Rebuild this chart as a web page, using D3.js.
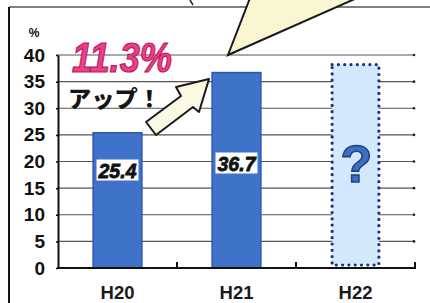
<!DOCTYPE html>
<html><head><meta charset="utf-8">
<script src="https://cdn.jsdelivr.net/npm/d3@7/dist/d3.min.js"></script>
<style>
html,body{margin:0;padding:0;background:#fff;}
svg{display:block;}
</style></head>
<body>
<svg id="chart" width="430" height="303"></svg>
<script>
const categories = ["H20", "H21", "H22"];
const values = [25.4, 36.7, 38.2];          // H22 is the unknown ("?") placeholder bar
const valueLabels = ["25.4", "36.7", null];
const unknownFlags = [false, false, true];
const yTicks = [0, 5, 10, 15, 20, 25, 30, 35, 40];
const yUnit = "%";
const headline = "11.3%";
const subline = "アップ！";

const svg = d3.select("#chart");
const W = 430, H = 303;
const x = d3.scaleBand().domain(categories).range([58, 415]).paddingInner(0.59).paddingOuter(0.295);
const y = d3.scaleLinear().domain([0, 40]).range([268, 55]);

// frame
svg.append("line").attr("x1", 9).attr("x2", W).attr("y1", 7).attr("y2", 7)
  .attr("stroke", "#555").attr("stroke-width", 1.5);
svg.append("line").attr("x1", 9).attr("x2", 9).attr("y1", 7).attr("y2", H)
  .attr("stroke", "#111").attr("stroke-width", 2);
svg.append("line").attr("x1", 190).attr("x2", 193).attr("y1", 0).attr("y2", 5)
  .attr("stroke", "#222").attr("stroke-width", 1.5);

// gridlines
const grid = svg.append("g");
grid.selectAll("line").data(yTicks.filter(d => d > 0)).join("line")
  .attr("x1", 57).attr("x2", 414)
  .attr("y1", d => y(d)).attr("y2", d => y(d))
  .attr("stroke", "#555").attr("stroke-width", 1.1);
grid.selectAll("circle").data(yTicks.filter(d => d > 0)).join("circle")
  .attr("cx", 414).attr("cy", d => y(d)).attr("r", 1.3).attr("fill", "#222");

// callout triangle from top
svg.append("path")
  .attr("d", "M250,-2 L228,55 L357,-2 Z")
  .attr("fill", "#fbf6d2").attr("stroke", "#1a1a1a").attr("stroke-width", 2)
  .attr("stroke-linejoin", "miter");

// y axis
const yAxis = d3.axisLeft(y).tickValues(yTicks).tickSize(0).tickPadding(13).tickFormat(d3.format("d"));
const ya = svg.append("g").attr("transform", "translate(58,0)").call(yAxis);
ya.select(".domain").attr("stroke", "#111").attr("stroke-width", 2);
ya.selectAll(".tick text")
  .attr("font-family", "'Liberation Sans Narrow','Arial Narrow',sans-serif")
  .attr("font-weight", "bold").attr("font-size", 19).attr("fill", "#111");
ya.selectAll(".tick").append("line").attr("x1", -2).attr("x2", 0).attr("stroke", "#111").attr("stroke-width", 1.5);
svg.append("text").attr("x", 34).attr("y", 37).attr("text-anchor", "middle")
  .attr("font-family", "'Liberation Sans',sans-serif").attr("font-weight", "bold")
  .attr("font-size", 12).attr("fill", "#111").text(yUnit);

// bars
const bars = svg.append("g");
categories.forEach((c, i) => {
  if (unknownFlags[i]) {
    bars.append("rect")
      .attr("x", x(c) + 1).attr("y", y(values[i]))
      .attr("width", x.bandwidth() - 2).attr("height", y(0) - 3 - y(values[i]))
      .attr("fill", "#d3e8fa").attr("stroke", "#1c2c8c").attr("stroke-width", 3.2)
      .attr("stroke-dasharray", "0 6.3").attr("stroke-linecap", "round");
  } else {
    bars.append("rect")
      .attr("x", x(c)).attr("y", y(values[i]))
      .attr("width", x.bandwidth()).attr("height", y(0) - y(values[i]))
      .attr("fill", "#3e73c9").attr("stroke", "#2c58b0").attr("stroke-width", 1.5);
  }
});

// x axis baseline with ticks at band boundaries
svg.append("line").attr("x1", 57).attr("x2", 416).attr("y1", y(0)).attr("y2", y(0))
  .attr("stroke", "#111").attr("stroke-width", 2.2);
const step = x.step();
svg.selectAll(".bt").data(categories).join("line").attr("class", "bt")
  .attr("x1", (d, i) => 58 + step * (i + 1)).attr("x2", (d, i) => 58 + step * (i + 1))
  .attr("y1", y(0)).attr("y2", y(0) - 6)
  .attr("stroke", "#111").attr("stroke-width", 2);
svg.selectAll(".xl").data(categories).join("text").attr("class", "xl")
  .attr("x", d => x(d) + x.bandwidth() / 2).attr("y", 299)
  .attr("text-anchor", "middle")
  .attr("font-family", "'Liberation Sans',Arial,sans-serif").attr("font-weight", "bold")
  .attr("font-size", 18.5).attr("fill", "#1a1a1a").text(d => d);

// value labels in white boxes
const labelY = [170, 163, null];
categories.forEach((c, i) => {
  if (!valueLabels[i]) return;
  const cx = x(c) + x.bandwidth() / 2;
  const g = svg.append("g");
  g.append("rect").attr("x", cx - 21).attr("y", labelY[i] - 10.5).attr("width", 42).attr("height", 21)
    .attr("fill", "#fff");
  g.append("text").attr("x", cx).attr("y", labelY[i] + 7.5).attr("text-anchor", "middle")
    .attr("font-family", "'Liberation Sans Narrow','Liberation Sans',Arial,sans-serif").attr("font-weight", "bold")
    .attr("font-style", "italic").attr("font-size", 21)
    .attr("textLength", 38).attr("lengthAdjust", "spacingAndGlyphs")
    .attr("fill", "#111").attr("stroke", "#111").attr("stroke-width", 0.8).text(valueLabels[i]);
});

// question mark in unknown bar
categories.forEach((c, i) => {
  if (!unknownFlags[i]) return;
  svg.append("text").attr("x", x(c) + x.bandwidth() / 2 + 1).attr("y", 182).attr("text-anchor", "middle")
    .attr("font-family", "'Liberation Sans',Arial,sans-serif").attr("font-weight", "bold")
    .attr("font-size", 52).attr("fill", "#3d6fc2").attr("stroke", "#23428c").attr("stroke-width", 1.6)
    .text("?");
});

// block arrow
svg.append("path")
  .attr("d", "M146,122 L181,96 L176,87 L209,79 L199,112 L193,107 L156,135 Z")
  .attr("fill", "#fbf8e4").attr("stroke", "#1a1a1a").attr("stroke-width", 2)
  .attr("stroke-linejoin", "round");

// headline texts
svg.append("text").attr("x", 72).attr("y", 72)
  .attr("font-family", "'Liberation Sans Narrow','Liberation Sans',sans-serif").attr("font-weight", "bold")
  .attr("font-style", "italic").attr("font-size", 42)
  .attr("textLength", 100).attr("lengthAdjust", "spacingAndGlyphs")
  .attr("fill", "#e6418a").attr("stroke", "#c01560").attr("stroke-width", 1.2).text(headline);
svg.append("text").attr("x", 68).attr("y", 107)
  .attr("font-family", "'Noto Sans CJK JP',sans-serif").attr("font-weight", 900)
  .attr("font-size", 22.5)
  .attr("textLength", 93).attr("lengthAdjust", "spacingAndGlyphs")
  .attr("fill", "#151515").text(subline);
</script>
</body></html>
